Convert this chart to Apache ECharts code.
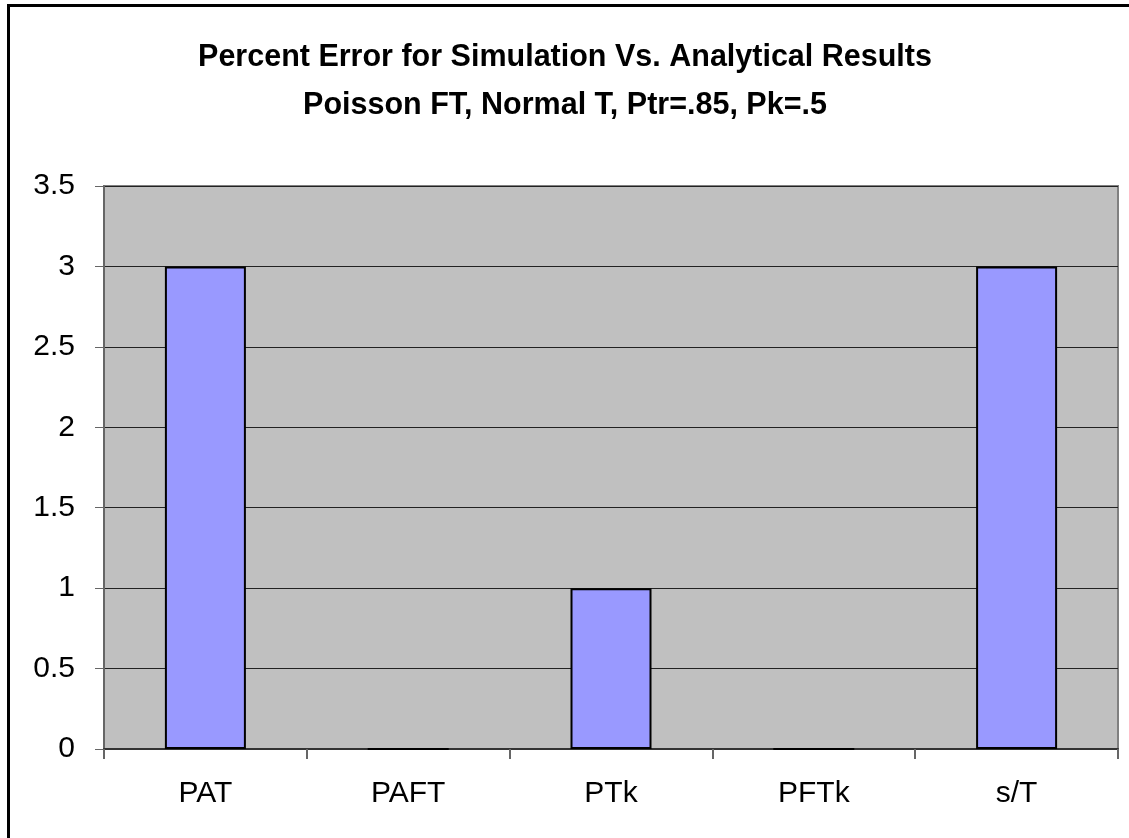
<!DOCTYPE html>
<html>
<head>
<meta charset="utf-8">
<script src="https://cdn.jsdelivr.net/npm/echarts@6/dist/echarts.min.js"></script>
<style>
html,body{margin:0;padding:0;background:#fff;}
#c{width:1129px;height:838px;}
</style>
</head>
<body>
<div id="c"></div>
<script>
const titleLines = ['Percent Error for Simulation Vs. Analytical Results', 'Poisson FT, Normal T, Ptr=.85, Pk=.5'];
const categories = ['PAT', 'PAFT', 'PTk', 'PFTk', 's/T'];
const percentError = [3, 0, 1, 0, 3];
const yTicks = { min: 0, max: 3.5, interval: 0.5 };

const chart = echarts.init(document.getElementById('c'), null, { renderer: 'canvas' });
chart.setOption({
  backgroundColor: '#ffffff',
  animation: false,
  title: {
    text: titleLines.join('\n'),
    left: 560,
    top: 29,
    textAlign: 'center',
    textStyle: {
      fontFamily: 'Liberation Sans, Arial, sans-serif',
      fontWeight: 'bold',
      fontSize: 30.5,
      lineHeight: 48,
      color: '#000'
    }
  },
  graphic: [{
    type: 'rect',
    shape: { x: 8.5, y: 5.5, width: 1200, height: 900 },
    style: { fill: 'none', stroke: '#000', lineWidth: 3 },
    silent: true
  }],
  grid: {
    left: 104, top: 186, right: 11, bottom: 89,
    show: true,
    backgroundColor: '#c0c0c0',
    borderColor: '#808080',
    borderWidth: 2
  },
  xAxis: {
    type: 'category',
    data: categories,
    boundaryGap: true,
    axisLine: { show: true, lineStyle: { color: '#333', width: 2 } },
    axisTick: { show: true, length: 10, lineStyle: { color: '#666', width: 2 } },
    axisLabel: {
      margin: 30,
      fontFamily: 'Liberation Sans, Arial, sans-serif',
      fontSize: 30,
      color: '#000'
    }
  },
  yAxis: {
    type: 'value',
    min: yTicks.min,
    max: yTicks.max,
    interval: yTicks.interval,
    axisLine: { show: true, lineStyle: { color: '#666', width: 2 } },
    axisTick: { show: true, length: 9, lineStyle: { color: '#666', width: 1 } },
    axisLabel: {
      margin: 29,
      fontFamily: 'Liberation Sans, Arial, sans-serif',
      fontSize: 30,
      color: '#000',
      formatter: v => String(v)
    },
    splitLine: { show: true, lineStyle: { color: '#222', width: 1 } }
  },
  series: [{
    type: 'bar',
    data: percentError,
    barWidth: 81,
    itemStyle: { color: '#9999ff', borderColor: '#000', borderWidth: 2 }
  }]
});
</script>
</body>
</html>
